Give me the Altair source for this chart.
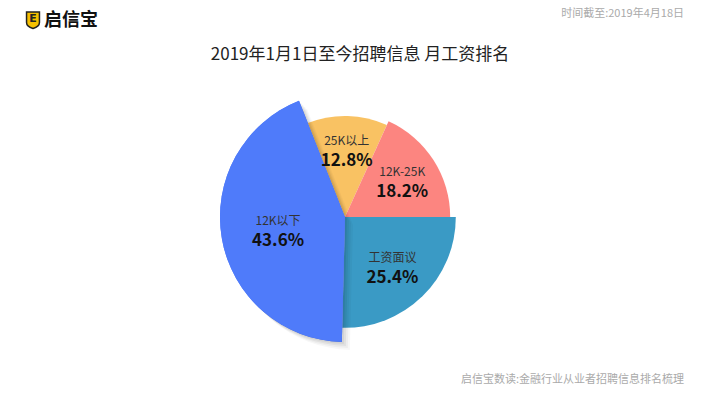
import math
import altair as alt
import pandas as pd

categories = ["工资面议", "12K以下", "25K以上", "12K-25K"]
values = [25.4, 43.6, 12.8, 18.2]
colors = ["#3A9AC5", "#4F7BFA", "#F9C263", "#FC8580"]

title_text = "2019年1月1日至今招聘信息 月工资排名"
date_text = "时间截至:2019年4月18日"
source_text = "启信宝数读:金融行业从业者招聘信息排名梳理"
brand_text = "启信宝"

df = pd.DataFrame({
    "cat": categories,
    "value": values,
    "idx": list(range(len(categories))),
})

FONT = "Noto Sans CJK SC"

theta = alt.Theta("value:Q", stack=True,
                  scale=alt.Scale(range=[math.pi / 2, math.pi / 2 + 2 * math.pi]))
order = alt.Order("idx:O", sort="ascending")
color = alt.Color("cat:N", scale=alt.Scale(domain=categories, range=colors), legend=None)
radius = alt.Radius("value:Q", scale=alt.Scale(type="linear", domain=[0, 50], range=[91, 130], zero=False))
r2 = alt.value(0)

base = alt.Chart(df)

arcs_all = base.mark_arc(stroke=None).encode(
    theta=theta, order=order, color=color, radius=radius, radius2=r2)

shadows = []
for dx, dy, op in [(2, 2, 0.06), (4, 4, 0.05), (6, 6, 0.04), (8, 8, 0.03)]:
    shadows.append(
        base.mark_arc(color="black", xOffset=dx, yOffset=dy).encode(
            theta=theta, order=order, radius=radius, radius2=r2,
            opacity=alt.condition(alt.datum.cat == "12K以下", alt.value(op), alt.value(0)))
    )

arc_blue = base.mark_arc().encode(
    theta=theta, order=order, color=color, radius=radius, radius2=r2,
    opacity=alt.condition(alt.datum.cat == "12K以下", alt.value(1), alt.value(0)))

names = base.mark_text(font=FONT, fontSize=12, color="#333333", dy=-8).encode(
    theta=theta, order=order, radius=alt.value(68), text="cat:N")

pcts = base.transform_calculate(
    pct="format(datum.value, '.1f') + '%'"
).mark_text(font=FONT, fontSize=17, fontWeight="bold", color="#111111", dy=12).encode(
    theta=theta, order=order, radius=alt.value(68), text="pct:N")

one = alt.Data(values=[{"a": 1}])

title = alt.Chart(one).mark_text(text=title_text, font=FONT, fontSize=17, color="#222222",
                                 align="center", baseline="middle").encode(
    x=alt.value(360), y=alt.value(55 - 17))
date = alt.Chart(one).mark_text(text=date_text, font=FONT, fontSize=11, color="#AAAAAA",
                                align="right", baseline="middle").encode(
    x=alt.value(684), y=alt.value(14 - 17))
source = alt.Chart(one).mark_text(text=source_text, font=FONT, fontSize=11, color="#AAAAAA",
                                  align="right", baseline="middle").encode(
    x=alt.value(684), y=alt.value(380 - 17))
brand = alt.Chart(one).mark_text(text=brand_text, font=FONT, fontSize=18, fontWeight="bold",
                                 color="#111111", align="left", baseline="middle").encode(
    x=alt.value(44), y=alt.value(21 - 17))
shield_path = "M -0.8 -1 L 0.8 -1 L 0.8 0.3 Q 0.8 0.8 0 1.05 Q -0.8 0.8 -0.8 0.3 Z"
shield = alt.Chart(one).mark_point(shape=shield_path, filled=True, color="#F5C000", size=260,
                                   stroke="#222222", strokeWidth=1.5, opacity=1).encode(
    x=alt.value(33), y=alt.value(20 - 17))
shield_inner = alt.Chart(one).mark_text(text="E", font="DejaVu Sans", fontSize=11, fontWeight="bold",
                                        color="#222222", align="center", baseline="middle").encode(
    x=alt.value(33), y=alt.value(19 - 17))

chart = alt.layer(
    arcs_all, *shadows, arc_blue, names, pcts,
    title, date, source, shield, shield_inner, brand
).properties(
    width=690, height=400,
    autosize=alt.AutoSizeParams(type="none"),
    padding={"left": 0, "top": 17, "right": 28, "bottom": 0},
    background="white",
).configure_view(stroke=None)

chart.save("out.html", embed_options={"renderer": "svg", "actions": False})
